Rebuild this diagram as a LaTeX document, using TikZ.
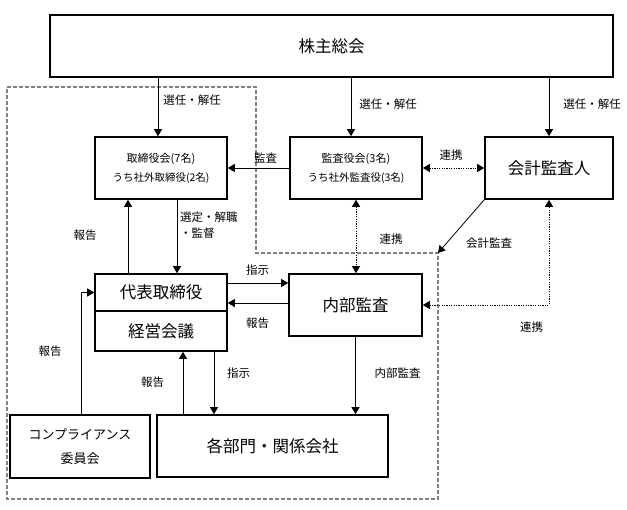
\documentclass[tikz,border=0pt]{standalone}
\usepackage{fontspec}
\setmainfont{Noto Sans CJK JP}
\usetikzlibrary{arrows.meta}
\begin{document}
\begin{tikzpicture}[x=1pt,y=-1pt,
  box/.style={draw,line width=1.6pt,inner sep=0pt,align=center},
  big/.style={font=\fontsize{16.5}{20}\selectfont},
  small/.style={font=\fontsize{11}{19}\selectfont},
  lbl/.style={font=\fontsize{11.5}{16}\selectfont,inner sep=0pt},
  tip/.tip={Triangle[length=7pt,width=8pt]},
  arr/.style={line width=0.8pt,-tip},
  darr/.style={line width=0.8pt,dash pattern=on 1.2pt off 1.2pt,tip-tip},
  bound/.style={draw=gray,line width=1.5pt,dash pattern=on 4pt off 2pt}]
\useasboundingbox (0,0) rectangle (627,510);

% dashed company boundary
\coordinate (bc) at (438,253);
\draw[bound] (7,87) -- (256,87) -- (256,253) -- (bc) -- (438,499) -- (7,499) -- cycle;

% helper coordinates for columns / rows
\coordinate (c81) at (81,0);
\coordinate (c128) at (128,0);
\coordinate (c158) at (158,0);
\coordinate (c177) at (177,0);
\coordinate (c183) at (183,0);
\coordinate (c214) at (214,0);
\coordinate (c351) at (351,0);
\coordinate (r283) at (0,283);
\coordinate (r303) at (0,303);

% boxes
\node[box,big,minimum width=563,minimum height=62] (top) at (331.5,46) {株主総会};
\node[box,small,minimum width=132,minimum height=62] (tori) at (161,168)
  {取締役会(7名)\\{\fontsize{10.5}{19}\selectfont うち社外取締役(2名)}};
\node[box,small,minimum width=132,minimum height=62] (kansa) at (356,168)
  {監査役会(3名)\\{\fontsize{10.5}{19}\selectfont うち社外監査役(3名)}};
\node[box,big,minimum width=128,minimum height=62] (kaikei) at (549,168) {会計監査人};
\node[box,big,minimum width=132,minimum height=37] (daihyo) at (161,292.5) {代表取締役};
\node[box,big,minimum width=132,minimum height=40] (keiei) at (161,331) {経営会議};
\node[box,big,minimum width=133,minimum height=62] (naibu) at (355.5,305) {内部監査};
\node[box,font=\fontsize{13}{24}\selectfont,minimum width=140,minimum height=63] (comp) at (80,446.5)
  {コンプライアンス\\委員会};
\node[box,big,minimum width=231,minimum height=62] (kakubu) at (272.5,446) {各部門・関係会社};

% connectors
\draw[arr] (top.south -| c158) -- (tori.north -| c158);
\draw[arr] (top.south -| c351) -- (kansa.north -| c351);
\draw[arr] (top.south -| kaikei.north) -- (kaikei.north);
\draw[arr] (kansa.west) -- (tori.east);
\draw[darr] (kansa.east) -- (kaikei.west);
\draw[darr] (kansa.south) -- (kansa.south |- naibu.north);
\draw[arr] (kaikei.south west) -- (bc);
\draw[darr] (naibu.east) -| (kaikei.south);
\draw[arr] (daihyo.north -| c128) -- (tori.south -| c128);
\draw[arr] (tori.south -| c177) -- (daihyo.north -| c177);
\draw[arr] (daihyo.east |- r283) -- (naibu.west |- r283);
\draw[arr] (naibu.west |- r303) -- (daihyo.east |- r303);
\draw[arr] (comp.north -| c81) |- (daihyo.west);
\draw[arr] (kakubu.north -| c183) -- (keiei.south -| c183);
\draw[arr] (keiei.south -| c214) -- (kakubu.north -| c214);
\draw[arr] (naibu.south) -- (naibu.south |- kakubu.north);

% labels
\node[lbl] (l1) at (192,100) {選任・解任};
\node[lbl] (l2) at (388,104) {選任・解任};
\node[lbl] (l3) at (592,104) {選任・解任};
\node[lbl] (l4) at (265.5,158) {監査};
\node[lbl] (l5) at (451,155) {連携};
\node[lbl] (l6) at (391,239) {連携};
\node[lbl] (l7) at (489,243) {会計監査};
\node[lbl] (l8) at (531.5,327) {連携};
\node[lbl] (l9) at (85,235) {報告};
\node[lbl,align=left,anchor=west] (l10) at (180,225) {選定・解職\\・監督};
\node[lbl] (l11) at (257.5,270) {指示};
\node[lbl] (l12) at (257.5,323) {報告};
\node[lbl] (l13) at (50,351) {報告};
\node[lbl] (l14) at (152.5,382) {報告};
\node[lbl] (l15) at (238.5,373) {指示};
\node[lbl] (l16) at (397.5,373) {内部監査};
\end{tikzpicture}
\end{document}
